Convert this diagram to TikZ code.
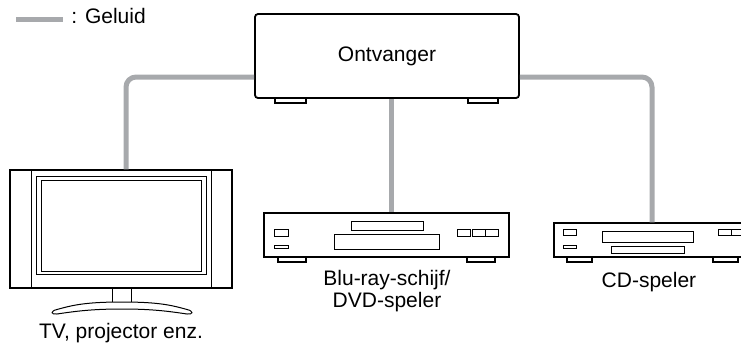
\documentclass[tikz,border=0pt]{standalone}
\usepackage{fontspec}
\setmainfont{Liberation Sans}
\definecolor{cablegray}{RGB}{167,169,172}

\begin{document}
\begin{tikzpicture}[x=0.5pt, y=-0.5pt,
      receiver/.style ={rectangle, draw, line width=0.9pt, rounded corners=1.5pt, fill=white, inner sep=0pt},
      device/.style ={rectangle, draw, line width=0.6pt, fill=white, inner sep=0pt},
      foot/.style ={draw, line width=0.6pt, fill=white},
      part/.style ={draw, line width=0.5pt},
      cable/.style ={draw=cablegray, line width=2.5pt, rounded corners=5pt},
      caption/.style ={font=\fontsize{10.5}{9.7}\selectfont, align=center, inner sep=0pt}]

   \useasboundingbox (0,0) rectangle (741,345);
   \clip (0,0) rectangle (741,345);

   % legend
   \coordinate (L1) at (16,19);
   \coordinate (L2) at (63,19);
   \draw[cable] (L1) -- (L2);
   \node[caption, anchor=base west] (legend) at (71,23) {: Geluid};

   % receiver
   \draw[foot] (275,97) rectangle (306,103);
   \draw[foot] (468,97) rectangle (498,103);
   \node[receiver, caption, minimum width=132pt, minimum height=42pt] (rcv) at (387,56) {Ontvanger};

   % tv
   \node[device, minimum width=111pt, minimum height=59pt] (tv) at (121,229) {};
   \draw[part] (31,170) -- (31,288) (211,170) -- (211,288);
   \draw[part] (36,176) rectangle (206,274);
   \draw[part] (41,180) rectangle (201,271);
   \draw[part, fill=white] (112,288) rectangle (131,302);
   \draw[part, fill=white] (122,302) .. controls (86,302) and (73,305) .. (57,309.5)
      .. controls (50,311) and (51,315) .. (57,314) .. controls (77,311) and (93,309) .. (122,309)
      .. controls (151,309) and (167,311) .. (187,314) .. controls (193,315) and (194,311) .. (187,309.5)
      .. controls (171,305) and (158,302) .. (122,302) -- cycle;
   \node[caption, anchor=base] (tvlbl) at (121,338) {TV, projector enz.};

   % blu-ray / dvd
   \draw[foot] (278,256) rectangle (306,262);
   \draw[foot] (467,256) rectangle (495,262);
   \node[device, minimum width=122.5pt, minimum height=22pt] (bd) at (386.5,235) {};
   \draw[part] (274,229) rectangle (288,236);
   \draw[part] (274,245) rectangle (288,248);
   \draw[part] (351,221) rectangle (423,230);
   \draw[part] (334,234) rectangle (439,249);
   \draw[part] (457,229) rectangle (470,236);
   \draw[part] (472,229) rectangle (498,236) (485,229) -- (485,236);
   \node[caption, anchor=base] (bdlbl) at (387,307) {Blu-ray-schijf/\\DVD-speler};

   % cd
   \draw[foot] (567,256) rectangle (592,262);
   \draw[foot] (713,256) rectangle (738,262);
   \node[device, minimum width=98pt, minimum height=17pt] (cd) at (652,240) {};
   \draw[part] (563,229) rectangle (576,235);
   \draw[part] (563,245) rectangle (576,248);
   \draw[part] (602,231) rectangle (693,242);
   \draw[part] (611,246) rectangle (684,253);
   \draw[part] (718,229) rectangle (745,235) (731,229) -- (731,235);
   \node[caption, anchor=base] (cdlbl) at (649,287) {CD-speler};

   \draw[cable] ([yshift=-10.5pt]rcv.west) -| ([xshift=2.5pt]tv.north);
   \draw[cable] ([xshift=2pt]rcv.south) -- ([xshift=2pt]rcv.south |- bd.north);
   \draw[cable] ([yshift=-10.5pt]rcv.east) -| (cd.north);
 \end{tikzpicture}
\end{document}
